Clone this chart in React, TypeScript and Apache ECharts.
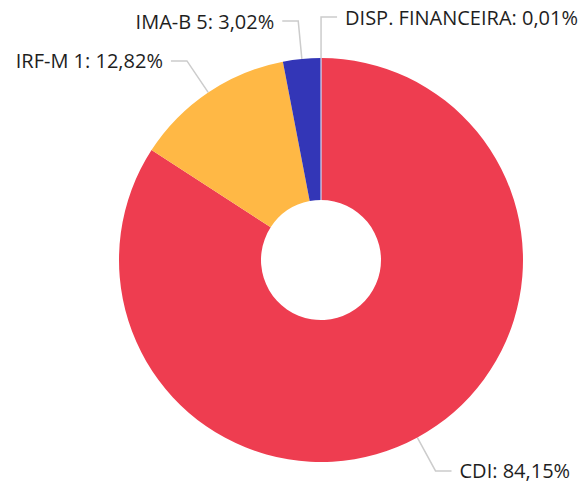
import React, { useEffect, useRef } from "react";
import * as echarts from "echarts";

const categories = ["CDI", "IRF-M 1", "IMA-B 5", "DISP. FINANCEIRA"];
const values = [84.15, 12.82, 3.02, 0.01];
const colors = ["#EE3D50", "#FFB845", "#3336B7", "#C9C9E6"];

export default function App() {
  const ref = useRef<HTMLDivElement>(null);
  useEffect(() => {
    if (!ref.current) return;
    const chart = echarts.init(ref.current, null, { renderer: "svg" });
    chart.setOption({
      animation: false,
      series: [
        {
          type: "pie",
          center: [321, 260],
          radius: [60, 202],
          startAngle: 89.97,
          clockwise: true,
          avoidLabelOverlap: false,
          minShowLabelAngle: 0,
          labelLayout: { hideOverlap: false },
          data: categories.map((c, i) => ({
            name: c,
            value: values[i],
            itemStyle:
              i === 3
                ? { color: colors[i], borderColor: colors[i], borderWidth: 0.8 }
                : { color: colors[i] },
            labelLine: i === 3 ? { length: 41 } : undefined,
          })),
          label: {
            show: true,
            fontFamily: "Open Sans",
            fontSize: 20,
            color: "#1e1e1e",
            distanceToLabelLine: 8,
            formatter: (p: any) =>
              p.name + ": " + Number(p.value).toFixed(2).replace(".", ",") + "%",
          },
          labelLine: {
            show: true,
            length: 38,
            length2: 16,
            smooth: false,
            lineStyle: { color: "#cccccc", width: 1.5 },
          },
          emphasis: { disabled: true },
        },
      ],
    });
    return () => chart.dispose();
  }, []);
  return (
    <div
      ref={ref}
      style={{ position: "absolute", left: 0, top: 0, width: 580, height: 486 }}
    />
  );
}
